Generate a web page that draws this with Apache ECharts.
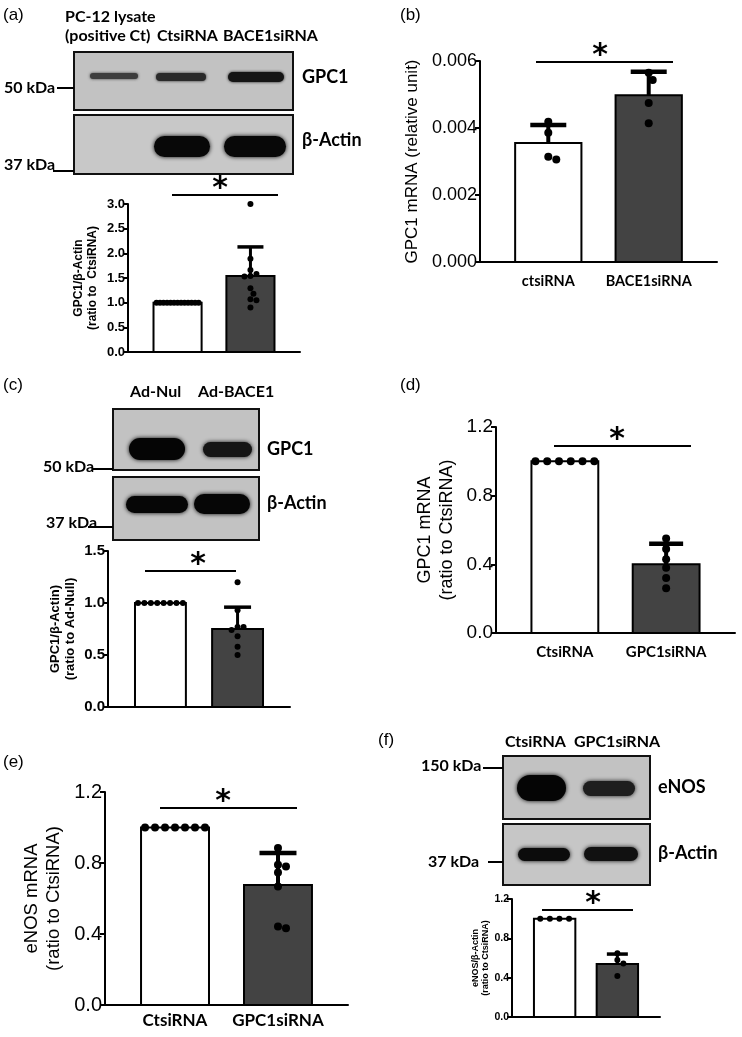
<!DOCTYPE html>
<html><head><meta charset="utf-8">
<script src="https://cdn.jsdelivr.net/npm/echarts@6/dist/echarts.min.js"></script>
<style>html,body{margin:0;padding:0;background:#fff}#c{width:742px;height:1037px}</style>
</head><body><div id="c"></div>
<script>
// ---------------- DATA ----------------
const catsB = ['ctsiRNA', 'BACE1siRNA'];
const catsD = ['CtsiRNA', 'GPC1siRNA'];
const catsE = ['CtsiRNA', 'GPC1siRNA'];

const aMean = [1.0, 1.54];
const aSD = [0, 0.59];
const aCtrlDots = [1, 1, 1, 1, 1, 1, 1, 1, 1, 1, 1, 1, 1];
const aTreatDots = [3.0, 1.89, 1.66, 1.58, 1.54, 1.53, 1.29, 1.18, 1.07, 1.05, 0.90];

const bMean = [0.00355, 0.00498];
const bSD = [0.00054, 0.00070];
const bCtrlDots = [0.00419, 0.00386, 0.00314, 0.00306];
const bTreatDots = [0.00565, 0.00543, 0.00475, 0.00414];

const cMean = [1.0, 0.75];
const cSD = [0, 0.21];
const cCtrlDots = [1, 1, 1, 1, 1, 1, 1, 1];
const cTreatDots = [1.20, 0.93, 0.77, 0.77, 0.74, 0.68, 0.58, 0.50];

const dMean = [1.0, 0.40];
const dSD = [0, 0.12];
const dCtrlDots = [1, 1, 1, 1, 1, 1];
const dTreatDots = [0.55, 0.49, 0.43, 0.38, 0.32, 0.26];

const eMean = [1.0, 0.676];
const eSD = [0, 0.18];
const eCtrlDots = [1, 1, 1, 1, 1, 1, 1];
const eTreatDots = [0.884, 0.79, 0.78, 0.747, 0.668, 0.442, 0.433];

const fMean = [1.0, 0.54];
const fSD = [0, 0.10];
const fCtrlDots = [1, 1, 1, 1];
const fTreatDots = [0.648, 0.58, 0.545, 0.416];

// ---------------- LAYOUT / STYLE ----------------
const X_MIN = -0.68, X_MAX = 1.68, BAR_W = 0.66;
const BAR_FILLS = ['#ffffff', '#434343'];

const panels = [
  { left:128, top:204, width:172, height:148, yMax:3.0, yInt:0.5, dec:1,
    mean:aMean, sd:aSD, dots:[aCtrlDots, aTreatDots], cats:null,
    dot:6, errW:3, capW:26, tickSize:13, tickBold:true,
    name:'GPC1/β-Actin\n(ratio to  CtsiRNA)', nameSize:12, nameBold:true, nameGap:28, nameLH:14 },
  { left:480, top:61, width:237, height:201, yMax:0.006, yInt:0.002, dec:3,
    mean:bMean, sd:bSD, dots:[bCtrlDots, bTreatDots], cats:catsB, catSize:14.5, catMargin:12,
    dot:8, errW:4, capW:36, tickSize:18, tickBold:false,
    name:'GPC1 mRNA (relative unit)', nameSize:17, nameBold:false, nameGap:58, nameLH:20 },
  { left:108, top:551, width:182, height:156, yMax:1.5, yInt:0.5, dec:1,
    mean:cMean, sd:cSD, dots:[cCtrlDots, cTreatDots], cats:null,
    dot:6, errW:3, capW:27, tickSize:15, tickBold:true,
    name:'GPC1/β-Actin)\n(ratio to Ad-Null)', nameSize:13, nameBold:true, nameGap:30, nameLH:15 },
  { left:496, top:427, width:239, height:206, yMax:1.2, yInt:0.4, dec:1,
    mean:dMean, sd:dSD, dots:[dCtrlDots, dTreatDots], cats:catsD, catSize:15, catMargin:12,
    dot:8, errW:4, capW:34, tickSize:19, tickBold:false,
    name:'GPC1 mRNA\n(ratio to CtsiRNA)', nameSize:18, nameBold:false, nameGap:38, nameLH:22 },
  { left:105, top:792, width:243, height:213, yMax:1.2, yInt:0.4, dec:1,
    mean:eMean, sd:eSD, dots:[eCtrlDots, eTreatDots], cats:catsE, catSize:17, catMargin:7,
    dot:8, errW:4, capW:37, tickSize:20, tickBold:false,
    name:'eNOS mRNA\n(ratio to CtsiRNA)', nameSize:18.5, nameBold:false, nameGap:40, nameLH:22 },
  { left:512, top:899, width:148, height:118, yMax:1.2, yInt:0.4, dec:1,
    mean:fMean, sd:fSD, dots:[fCtrlDots, fTreatDots], cats:null,
    dot:6, errW:3, capW:21, tickSize:10.5, tickBold:true,
    name:'eNOS/β-Actin\n(ratio to CtsiRNA)', nameSize:9, nameBold:true, nameGap:14, nameLH:10 }
];

// dot placement (beeswarm computed from the values, in pixel space)
function swarm(values, center, p) {
  const pxX = p.width / (X_MAX - X_MIN);
  const pxY = p.height / p.yMax;
  const barPx = BAR_W * pxX;
  const counts = {};
  values.forEach(v => counts[v] = (counts[v] || 0) + 1);
  const out = [];
  const placed = [];
  const groups = Object.keys(counts).map(Number);
  const singles = [];
  groups.forEach(v => {
    const n = counts[v];
    if (n >= 3) {
      const sp = Math.min(p.dot * 1.6, (barPx - p.dot) / (n - 1));
      for (let k = 0; k < n; k++) {
        const dx = (k - (n - 1) / 2) * sp;
        placed.push([dx, v * pxY]);
        out.push([center + dx / pxX, v]);
      }
    } else {
      for (let k = 0; k < n; k++) singles.push(v);
    }
  });
  singles.sort((a, b) => b - a);
  const step = p.dot / 2;
  singles.forEach(v => {
    const y = v * pxY;
    for (let i = 0; i < 40; i++) {
      const k = i === 0 ? 0 : (i % 2 ? (i + 1) / 2 : -i / 2);
      const dx = k * step;
      const ok = placed.every(q => Math.hypot(q[0] - dx, q[1] - y) >= p.dot * 0.95);
      if (ok) { placed.push([dx, y]); out.push([center + dx / pxX, v]); break; }
    }
  });
  return out;
}

function barRenderer(p) {
  return function (params, api) {
    const idx = params.dataIndex;
    const x = idx, m = p.mean[idx], s = p.sd[idx];
    const a = api.coord([x - BAR_W / 2, 0]);
    const b = api.coord([x + BAR_W / 2, m]);
    const children = [{
      type: 'rect',
      shape: { x: a[0], y: b[1], width: b[0] - a[0], height: a[1] - b[1] },
      style: { fill: BAR_FILLS[idx], stroke: '#000', lineWidth: 2 }
    }];
    if (s > 0) {
      const top = api.coord([x, m + s]);
      children.push({ type: 'line', shape: { x1: top[0], y1: b[1], x2: top[0], y2: top[1] },
        style: { stroke: '#000', lineWidth: p.errW } });
      children.push({ type: 'line', shape: { x1: top[0] - p.capW / 2, y1: top[1], x2: top[0] + p.capW / 2, y2: top[1] },
        style: { stroke: '#000', lineWidth: p.errW + 0.5 } });
    }
    return { type: 'group', children };
  };
}

const grid = [], xAxis = [], yAxis = [], series = [];
panels.forEach((p, i) => {
  grid.push({ left: p.left, top: p.top, width: p.width, height: p.height, outerBoundsMode: 'none', containLabel: false });
  xAxis.push({
    gridIndex: i, type: 'value', min: X_MIN, max: X_MAX,
    axisLine: { show: true, onZero: false, lineStyle: { color: '#000', width: 2 } },
    axisTick: { show: false }, splitLine: { show: false },
    axisLabel: p.cats ? {
      show: true, customValues: [0, 1], formatter: v => p.cats[Math.round(v)],
      color: '#000', fontFamily: 'Lato', fontWeight: 'bold', fontSize: p.catSize, margin: p.catMargin
    } : { show: false }
  });
  yAxis.push({
    gridIndex: i, type: 'value', min: 0, max: p.yMax, interval: p.yInt,
    axisLine: { show: true, onZero: false, lineStyle: { color: '#000', width: 2 } },
    axisTick: { show: true, length: 5, lineStyle: { color: '#000', width: 2 } },
    splitLine: { show: false },
    axisLabel: { color: '#000', fontFamily: 'Liberation Sans', fontSize: p.tickSize,
      fontWeight: p.tickBold ? 'bold' : 'normal', margin: 3, formatter: v => v.toFixed(p.dec) },
    name: p.name, nameLocation: 'middle', nameRotate: 90, nameGap: p.nameGap,
    nameTextStyle: { color: '#000', fontFamily: 'Liberation Sans', fontSize: p.nameSize,
      fontWeight: p.nameBold ? 'bold' : 'normal', lineHeight: p.nameLH }
  });
  series.push({
    type: 'custom', xAxisIndex: i, yAxisIndex: i, z: 2, silent: true, clip: false,
    data: p.mean.map((m, k) => [k, m]), renderItem: barRenderer(p)
  });
  series.push({
    type: 'scatter', xAxisIndex: i, yAxisIndex: i, z: 3, silent: true,
    symbolSize: p.dot, itemStyle: { color: '#000', opacity: 1 },
    data: swarm(p.dots[0], 0, p).concat(swarm(p.dots[1], 1, p))
  });
});

// ---------------- decorations: blots, labels, significance ----------------
const G = [];
function txt(x, y, text, font, align, va) {
  G.push({ type: 'text', x: x, y: y, z: 10, style: { text: text, font: font, fill: '#000',
    textAlign: align || 'left', textVerticalAlign: va || 'middle' } });
}
function ln(x1, y1, x2, y2, w) {
  G.push({ type: 'line', z: 10, shape: { x1, y1, x2, y2 }, style: { stroke: '#000', lineWidth: w || 2 } });
}
function blot(x, y, w, h, bands, bg) {
  const ch = [{ type: 'rect', shape: { x, y, width: w, height: h },
    style: { fill: bg || '#c2c2c2', stroke: '#111', lineWidth: 2 } }];
  bands.forEach(b => ch.push({ type: 'rect', shape: { x: b[0], y: b[1], width: b[2], height: b[3], r: b[3] / 2 },
    style: { fill: b[4], shadowBlur: b[5] || 4, shadowColor: b[4] } }));
  G.push({ type: 'group', z: 5, children: ch });
}
function sig(x1, x2, y, sx) {
  ln(x1, y, x2, y);
  txt(sx, y - 6, '*', STAR, 'center', 'middle');
}
const LB = 'bold 16px Lato';
const LB18 = 'bold 18px Lato';
const PANEL = '17px "Liberation Sans"';
const STAR = 'bold 30px "DejaVu Sans"';

// (a)
txt(3, 15, '(a)', PANEL);
txt(65, 17, 'PC-12 lysate', LB);
txt(65, 36, '(positive Ct)', LB);
txt(157, 36, 'CtsiRNA', LB);
txt(223, 36, 'BACE1siRNA', LB);
blot(74, 52, 219, 58, [
  [90, 73, 48, 6, '#3c3c3c', 3], [156, 73, 50, 8, '#2a2a2a', 3], [228, 72, 56, 10, '#151515', 3]
]);
blot(74, 115, 219, 59, [
  [154, 136, 56, 21, '#080808', 4], [224, 136, 62, 21, '#080808', 4]
], '#c8c8c8');
txt(302, 77, 'GPC1', LB18);
txt(302, 140, 'β-Actin', LB18);
txt(4, 88, '50 kDa', LB); ln(57, 88, 74, 88);
txt(4, 165, '37 kDa', LB); ln(53, 171, 74, 171);
sig(172, 278, 195, 220);

// (b)
txt(400, 15, '(b)', PANEL);
sig(536, 673, 62, 600);

// (c)
txt(3, 385, '(c)', PANEL);
txt(130, 392, 'Ad-Nul', LB);
txt(198, 392, 'Ad-BACE1', LB);
blot(113, 409, 146, 61, [
  [129, 438, 56, 22, '#050505', 4], [203, 442, 49, 15, '#151515', 4]
]);
blot(113, 477, 146, 63, [
  [126, 496, 62, 17, '#060606', 4], [194, 494, 56, 20, '#060606', 4]
]);
txt(267, 449, 'GPC1', LB18);
txt(267, 503, 'β-Actin', LB18);
txt(43, 467, '50 kDa', LB); ln(92, 469, 113, 469);
txt(46, 523, '37 kDa', LB); ln(88, 527, 113, 527);
sig(145, 236, 571, 198);

// (d)
txt(400, 385, '(d)', PANEL);
sig(554, 691, 446, 617);

// (e)
txt(3, 762, '(e)', PANEL);
sig(160, 297, 808, 223);

// (f)
txt(378, 740, '(f)', PANEL);
txt(505, 742, 'CtsiRNA', LB);
txt(574, 742, 'GPC1siRNA', LB);
blot(503, 756, 147, 63, [
  [517, 775, 49, 26, '#050505', 4], [583, 781, 52, 15, '#1e1e1e', 4]
]);
blot(503, 824, 147, 61, [
  [518, 848, 52, 13, '#0c0c0c', 4], [584, 847, 54, 14, '#111111', 4]
], '#c6c6c6');
txt(658, 787, 'eNOS', LB18);
txt(658, 853, 'β-Actin', LB18);
txt(421, 766, '150 kDa', LB); ln(483, 768, 503, 768);
txt(428, 862, '37 kDa', LB); ln(488, 862, 503, 862);
sig(542, 633, 910, 593);

const chart = echarts.init(document.getElementById('c'), null, { renderer: 'canvas', width: 742, height: 1037 });
chart.setOption({
  backgroundColor: '#ffffff',
  animation: false,
  grid, xAxis, yAxis, series,
  graphic: { elements: G }
});
</script>
</body></html>
